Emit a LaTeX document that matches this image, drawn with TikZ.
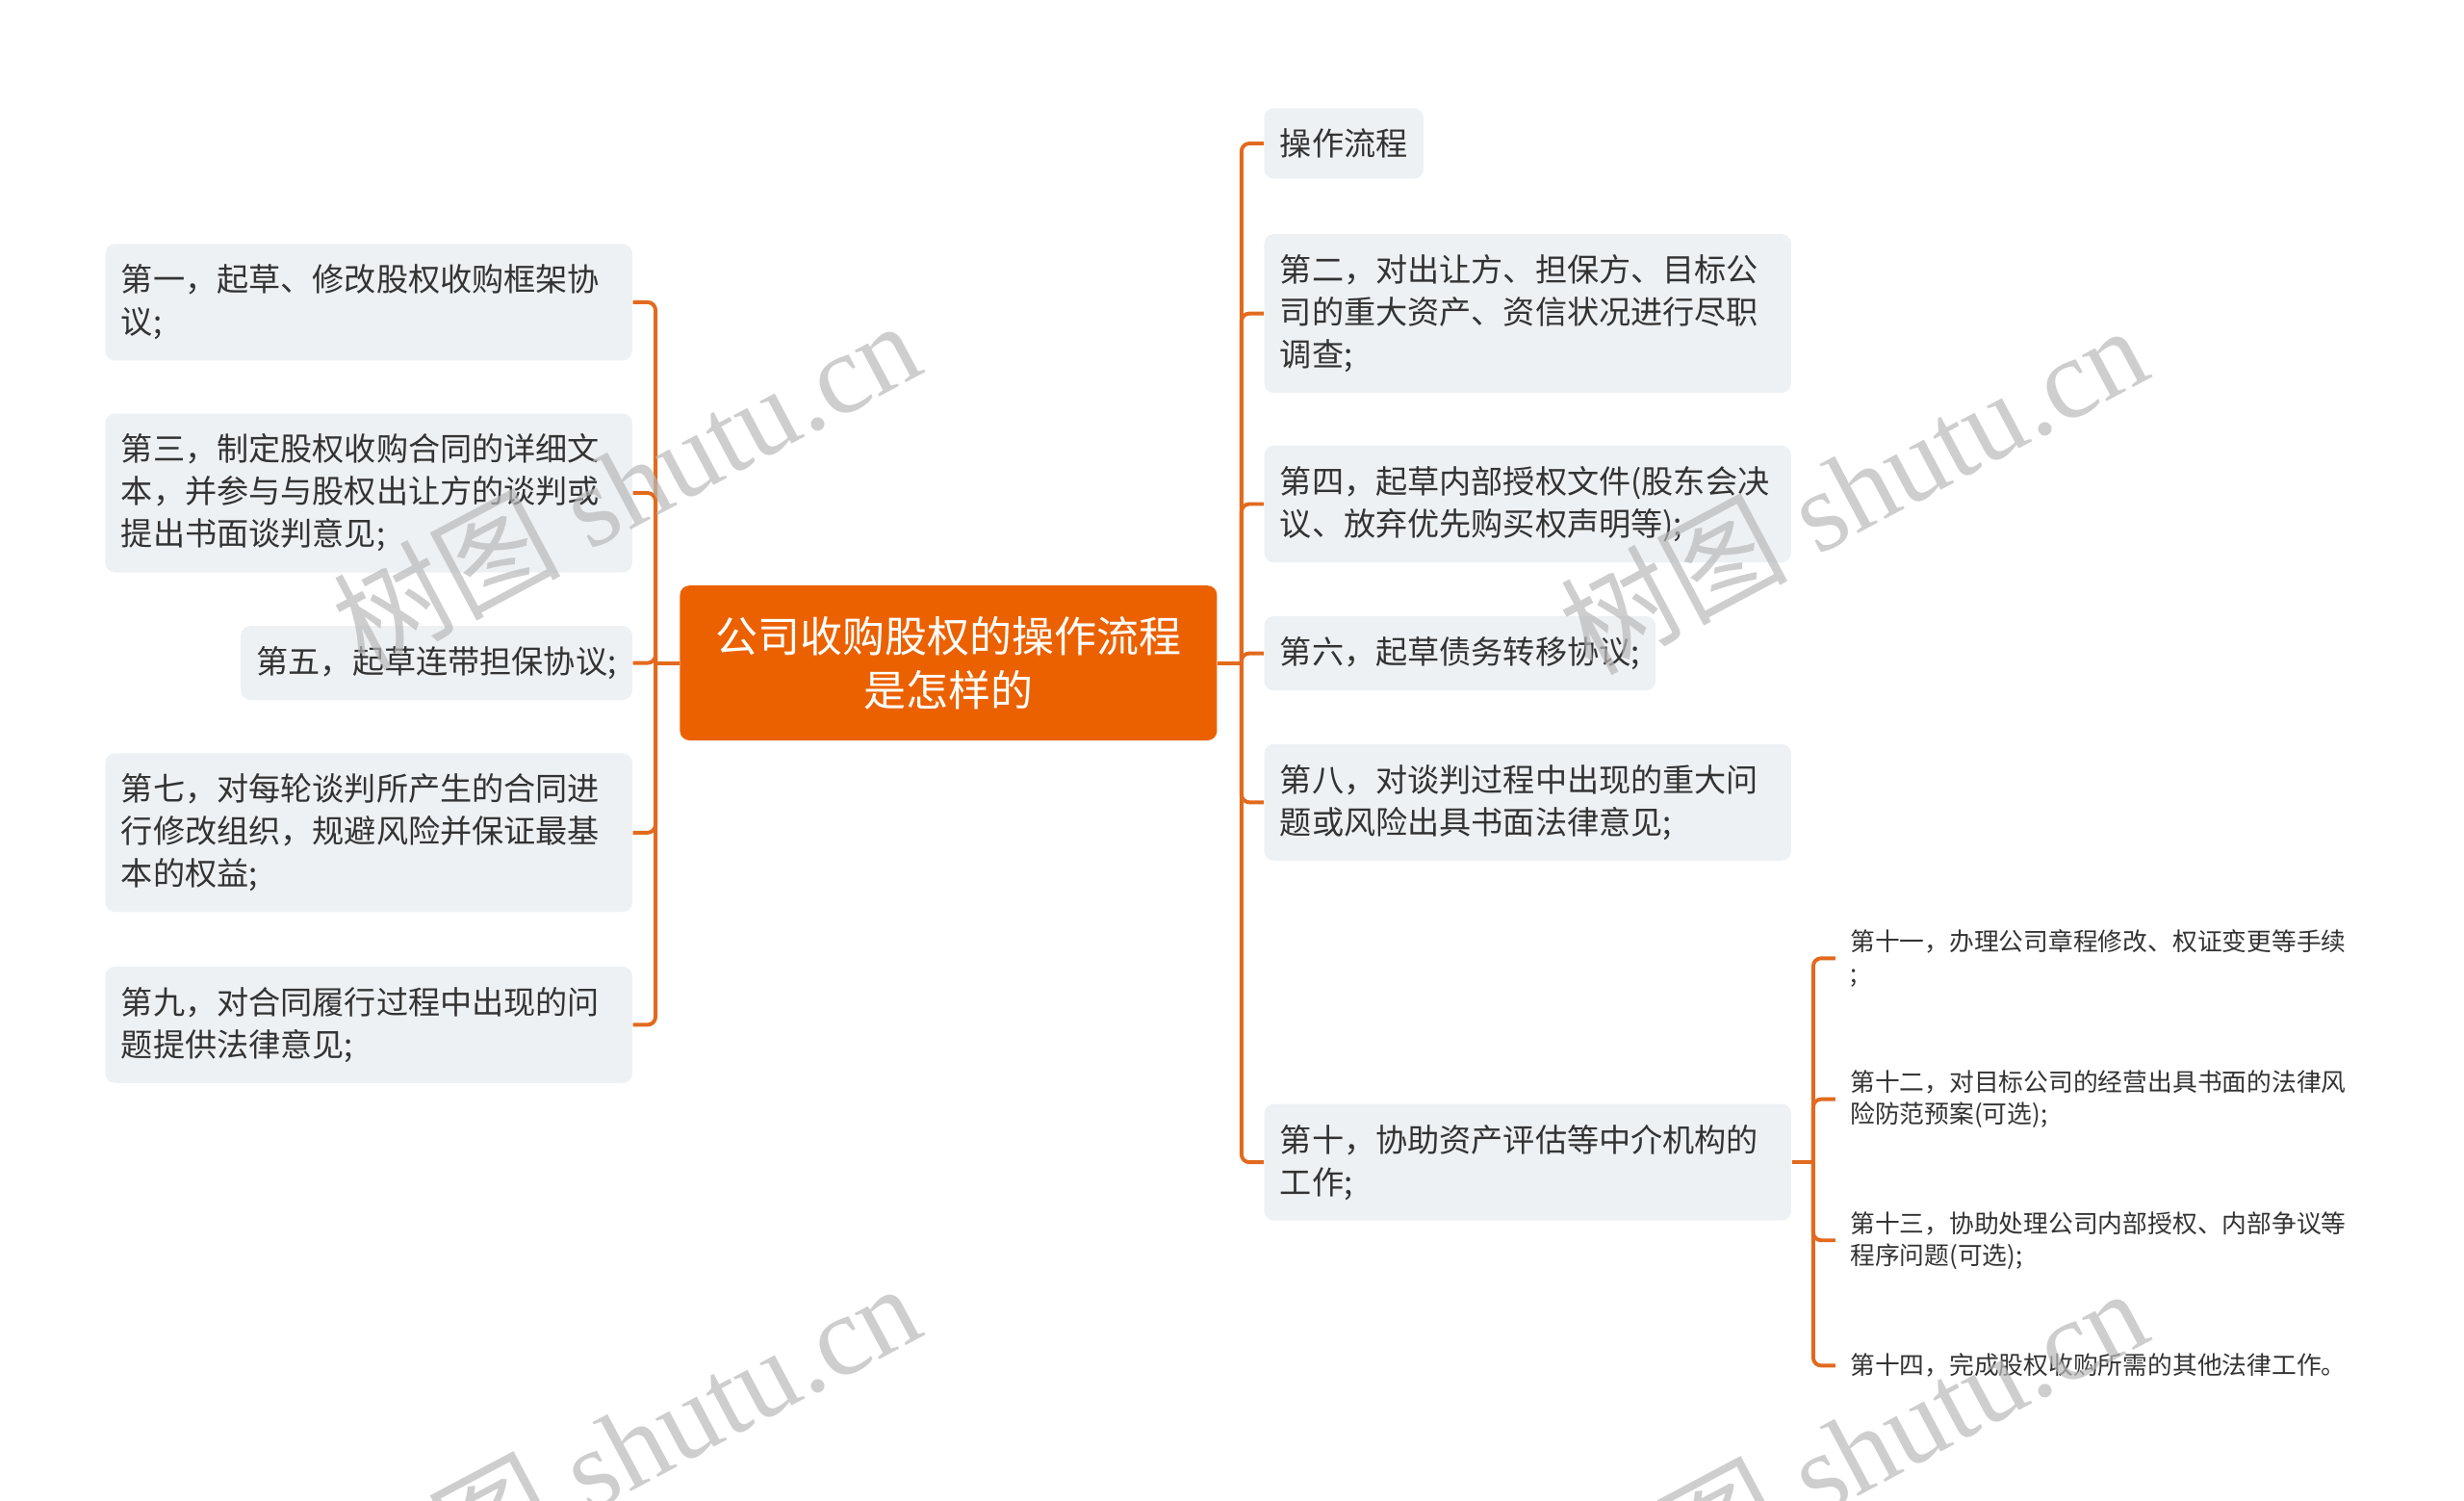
\documentclass[tikz,border=0pt]{standalone}
\usepackage{fontspec}
\setmainfont{Liberation Serif}
\newfontfamily\cjkfont{Noto Sans CJK SC}
\usepackage{xcolor}
\usetikzlibrary{positioning}
\usetikzlibrary{calc}
\definecolor{rootorange}{RGB}{235,97,0}
\definecolor{linkorange}{RGB}{226,106,30}
\definecolor{topicgray}{RGB}{238,241,244}
\definecolor{inkgray}{RGB}{51,51,51}
\definecolor{markgray}{RGB}{185,185,185}

\begin{document}
\begin{tikzpicture}[
  x=0.5pt, y=-0.5pt,
  rootbox/.style={fill=rootorange, text=white, rounded corners=3pt, align=center,
    minimum width=170pt, minimum height=49pt,
    font=\cjkfont\fontsize{13.4}{17.1}\selectfont},
  topic/.style={fill=topicgray, text=inkgray, rounded corners=3pt, align=left,
    inner xsep=5pt, inner ysep=6.5pt,
    font=\cjkfont\fontsize{10.1}{13.4}\selectfont},
  wide/.style={text width=156.8pt},
  leaf/.style={text=inkgray, align=left, inner xsep=4.5pt, inner ysep=0pt, anchor=west,
    font=\cjkfont\fontsize{7.85}{10.1}\selectfont},
  link/.style={draw=linkorange, line width=1.2pt, rounded corners=2.5pt},
  wmark/.style={text=markgray, opacity=0.7, rotate=28, inner sep=0pt,
    font=\fontsize{36}{36}\selectfont}
]
\useasboundingbox (0,0) rectangle (1560,950);

% Root
\node[rootbox] (root) at (600.5,419.6) {公司收购股权的操作流程\\是怎样的};

% Left branch
\node[topic, wide, anchor=east] (l1) at (400.7,191.3) {第一，起草、修改股权收购框架协\\议;};
\node[topic, wide, anchor=east] (l3) at (400.7,312) {第三，制定股权收购合同的详细文\\本，并参与与股权出让方的谈判或\\提出书面谈判意见;};
\node[topic, anchor=east] (l5) at (400.7,419.6) {第五，起草连带担保协议;};
\node[topic, wide, anchor=east] (l7) at (400.7,527) {第七，对每轮谈判所产生的合同进\\行修改组织，规避风险并保证最基\\本的权益;};
\node[topic, wide, anchor=east] (l9) at (400.7,648.6) {第九，对合同履行过程中出现的问\\题提供法律意见;};

% Right branch
\node[topic, anchor=west] (r0) at (800,90.8) {操作流程};
\node[topic, wide, anchor=west] (r2) at (800,198.4) {第二，对出让方、担保方、目标公\\司的重大资产、资信状况进行尽职\\调查;};
\node[topic, wide, anchor=west] (r4) at (800,319) {第四，起草内部授权文件(股东会决\\议、放弃优先购买权声明等);};
\node[topic, anchor=west] (r6) at (800,413.5) {第六，起草债务转移协议;};
\node[topic, wide, anchor=west] (r8) at (800,507.8) {第八，对谈判过程中出现的重大问\\题或风险出具书面法律意见;};
\node[topic, wide, anchor=west] (r10) at (800,735.6) {第十，协助资产评估等中介机构的\\工作;};

% Leaves of the tenth step
\node[leaf] (s11) at (1162,606.5) {第十一，办理公司章程修改、权证变更等手续\\;};
\node[leaf] (s12) at (1162,695.7) {第十二，对目标公司的经营出具书面的法律风\\险防范预案(可选);};
\node[leaf] (s13) at (1162,785) {第十三，协助处理公司内部授权、内部争议等\\程序问题(可选);};
\node[leaf] (s14) at (1162,864.3) {第十四，完成股权收购所需的其他法律工作。};

% Connectors
\coordinate (lfork) at (415,419.6);
\coordinate (rfork) at (786,419.6);
\coordinate (sfork) at (1148,735.6);
\draw[link] (root.west) -- (lfork);
\draw[link] (root.east) -- (rfork);
\draw[link] (r10.east) -- (sfork);
\foreach \n in {l1,l3,l5,l7,l9}
  \draw[link] (lfork) |- (\n.east);
\foreach \n in {r0,r2,r4,r6,r8,r10}
  \draw[link] (rfork) |- (\n.west);
\foreach \n in {s11,s12,s13,s14}
  \draw[link] (sfork) |- (\n.west);

% Watermarks
\node[wmark] (w1) at (396,306) {{\cjkfont 树图} shutu.cn};
\node[wmark] (w2) at (1173,309) {{\cjkfont 树图} shutu.cn};
\node[wmark] (w3) at (396,915) {{\cjkfont 树图} shutu.cn};
\node[wmark] (w4) at (1173,918) {{\cjkfont 树图} shutu.cn};
\end{tikzpicture}
\end{document}
